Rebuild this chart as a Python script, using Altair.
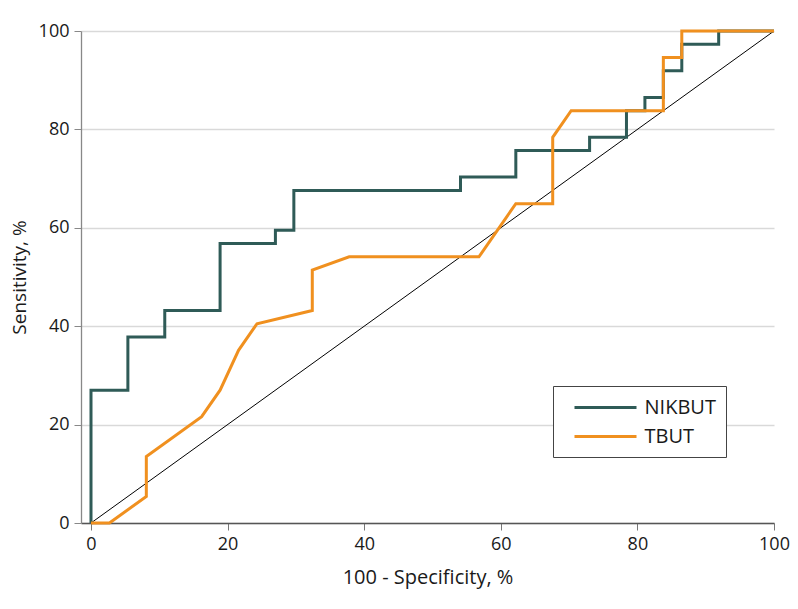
import altair as alt
import pandas as pd

# NIKBUT ROC curve (100 - specificity, sensitivity)
nik_x = [0, 0, 5.4, 5.4, 10.8, 10.8, 18.9, 18.9, 27.0, 27.0, 29.7, 29.7, 54.1, 54.1,
         62.2, 62.2, 73.0, 73.0, 78.4, 78.4, 81.1, 81.1, 83.8, 83.8, 86.5, 86.5,
         91.9, 91.9, 100]
nik_y = [0, 27.0, 27.0, 37.8, 37.8, 43.2, 43.2, 56.8, 56.8, 59.5, 59.5, 67.6, 67.6, 70.3,
         70.3, 75.7, 75.7, 78.4, 78.4, 83.8, 83.8, 86.5, 86.5, 91.9, 91.9, 97.3,
         97.3, 100, 100]

# TBUT ROC curve
tbut_x = [0, 2.7, 8.1, 8.1, 16.2, 18.9, 21.6, 24.3, 32.4, 32.4, 37.8, 56.8, 62.2, 67.6,
          67.6, 70.3, 83.8, 83.8, 86.5, 86.5, 100]
tbut_y = [0, 0, 5.4, 13.5, 21.6, 27.0, 35.1, 40.5, 43.2, 51.4, 54.1, 54.1, 64.9, 64.9,
          78.4, 83.8, 83.8, 94.6, 94.6, 100, 100]

series = ["NIKBUT", "TBUT"]
colors = ["#2f5b57", "#f0901f"]

diag_x = [0, 100]
diag_y = [0, 100]

x_ticks = [0, 20, 40, 60, 80, 100]
y_ticks = [0, 20, 40, 60, 80, 100]

rows = []
for i, (a, b) in enumerate(zip(nik_x, nik_y)):
    rows.append({"fpr": a, "tpr": b, "test": "NIKBUT", "i": i})
for i, (a, b) in enumerate(zip(tbut_x, tbut_y)):
    rows.append({"fpr": a, "tpr": b, "test": "TBUT", "i": i})
df = pd.DataFrame(rows)
diag = pd.DataFrame({"fpr": diag_x, "tpr": diag_y})

FONT = "Open Sans"

xscale = alt.Scale(domain=[-1.464, 100], nice=False, zero=False)
yscale = alt.Scale(domain=[0, 100], nice=False)

xaxis = alt.Axis(values=x_ticks, title="100 - Specificity, %", grid=False,
                 labelFontSize=18, titleFontSize=20, labelFont=FONT, titleFont=FONT,
                 labelColor="#1a1a1a", titleColor="#1a1a1a", titleFontWeight="normal",
                 domainColor="#555555", tickColor="#777777", tickSize=7, domainWidth=1.3,
                 labelPadding=5, titlePadding=14)
yaxis = alt.Axis(values=y_ticks, title="Sensitivity, %", grid=True,
                 gridColor="#d9d9d9", gridWidth=1.5,
                 labelFontSize=18, titleFontSize=19, labelFont=FONT, titleFont=FONT,
                 labelColor="#1a1a1a", titleColor="#1a1a1a", titleFontWeight="normal",
                 domainColor="#888888", tickColor="#888888", tickSize=7, domainWidth=1.3,
                 labelPadding=5, titlePadding=9)

diag_layer = alt.Chart(diag).mark_line(color="black", strokeWidth=1).encode(
    x=alt.X("fpr:Q", scale=xscale, axis=xaxis),
    y=alt.Y("tpr:Q", scale=yscale, axis=yaxis),
)

curves = alt.Chart(df).mark_line(strokeWidth=3, strokeJoin="miter").encode(
    x=alt.X("fpr:Q", scale=xscale, axis=xaxis),
    y=alt.Y("tpr:Q", scale=yscale, axis=yaxis),
    color=alt.Color("test:N", scale=alt.Scale(domain=series, range=colors),
                    legend=alt.Legend(title=None, orient="none", legendX=472, legendY=355,
                                      direction="vertical",
                                      symbolType="M0,0H6.2", symbolSize=400,
                                      symbolStrokeWidth=3,
                                      labelFontSize=20, labelFont=FONT, labelColor="#1a1a1a",
                                      labelOffset=58.5, padding=10, rowPadding=7,
                                      strokeColor="#444444", fillColor="white",
                                      labelExpr="datum.label + '    '")),
    order=alt.Order("i:Q"),
    detail="test:N",
)

chart = alt.layer(diag_layer, curves).properties(
    width=693, height=492,
    autosize=alt.AutoSizeParams(type="none"),
    padding={"left": 73, "top": 23, "right": 16, "bottom": 70},
).configure_view(stroke=None).configure_axis(labelFlush=False)

chart.save("out.html", embed_options={"renderer": "svg", "actions": False})
